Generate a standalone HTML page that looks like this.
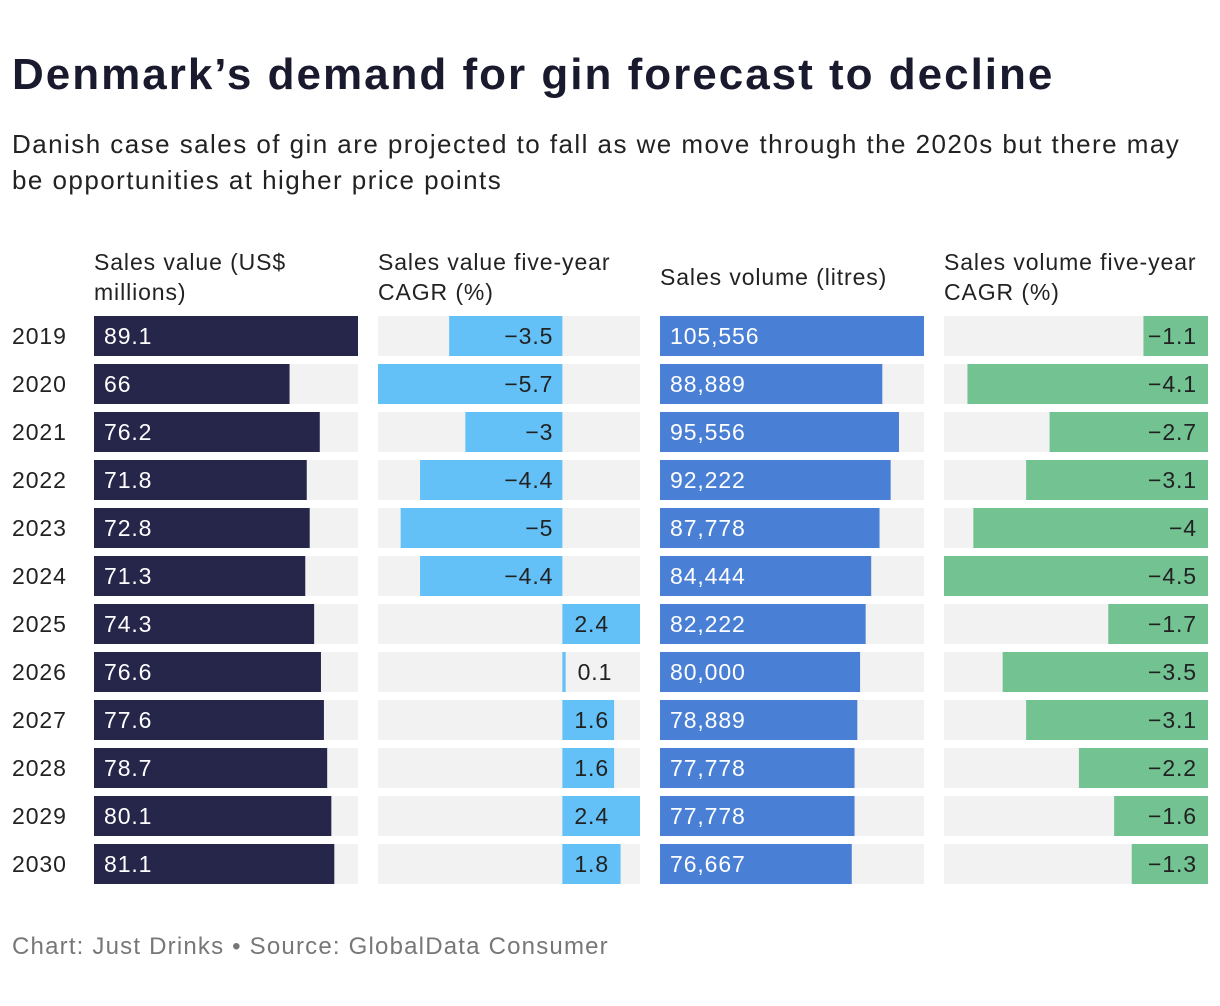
<!DOCTYPE html>
<html><head><meta charset="utf-8">
<style>
body{margin:0;background:#fff;font-family:"Liberation Sans",sans-serif;color:#1c1c2e;}
#wrap{position:relative;width:1220px;height:1006px;overflow:hidden;}
h1{position:absolute;left:12px;top:50px;margin:0;font-size:44px;font-weight:bold;letter-spacing:2.0px;color:#1a1a2e;white-space:nowrap;}
.sub{position:absolute;left:12px;top:126px;font-size:26px;line-height:36px;color:#222;width:1205px;letter-spacing:1.45px;}
.foot{position:absolute;left:12px;top:933px;font-size:24px;color:#777;letter-spacing:1.2px;}
svg text{letter-spacing:0.9px;}
</style></head><body>
<div id="wrap">
<h1>Denmark’s demand for gin forecast to decline</h1>
<div class="sub">Danish case sales of gin are projected to fall as we move through the 2020s but there may be opportunities at higher price points</div>
<svg id="chart" width="1220" height="1006" style="position:absolute;left:0;top:0"></svg>
<div class="foot">Chart: Just Drinks • Source: GlobalData Consumer</div>
</div>
<script>
const years=["2019","2020","2021","2022","2023","2024","2025","2026","2027","2028","2029","2030"];
const salesValue=[89.1,66,76.2,71.8,72.8,71.3,74.3,76.6,77.6,78.7,80.1,81.1];
const valueCagr=[-3.5,-5.7,-3,-4.4,-5,-4.4,2.4,0.1,1.6,1.6,2.4,1.8];
const salesVolume=[105556,88889,95556,92222,87778,84444,82222,80000,78889,77778,77778,76667];
const volumeCagr=[-1.1,-4.1,-2.7,-3.1,-4,-4.5,-1.7,-3.5,-3.1,-2.2,-1.6,-1.3];
const headers=[["Sales value (US$","millions)"],["Sales value five-year","CAGR (%)"],["Sales volume (litres)"],["Sales volume five-year","CAGR (%)"]];

const svg=document.getElementById('chart');
const NS='http://www.w3.org/2000/svg';
function mk(t,a){const e=document.createElementNS(NS,t);for(const k in a)e.setAttribute(k,a[k]);svg.appendChild(e);return e;}
const colX=[94,378,660,944], colWs=[264,262,264,264];
const rowY=i=>316+i*48, rowH=40;
const minV=Math.min(...valueCagr), maxV=Math.max(...valueCagr);
const x1=v=>colX[0]+v/Math.max(...salesValue)*colWs[0];
const x2=v=>colX[1]+(v-minV)/(maxV-minV)*colWs[1];
const x3=v=>colX[2]+v/Math.max(...salesVolume)*colWs[2];
const minG=Math.min(...volumeCagr);
const x4=v=>colX[3]+(v-minG)/(0-minG)*colWs[3];
const fmtNeg=v=>v<0?'\u2212'+String(-v):String(v);

headers.forEach((h,c)=>{
  const y0=h.length===2?270:285;
  h.forEach((l,j)=>{const t=mk('text',{x:colX[c],y:y0+j*30,'font-size':23,fill:'#222'});t.textContent=l;
  
  });
});

years.forEach((yr,i)=>{
  const y=rowY(i);
  const yl=mk('text',{x:12,y:y+28,'font-size':23,fill:'#222'});yl.textContent=yr;
  
  
  colX.forEach((cx,c)=>{const bg=mk('rect',{x:cx,y:y,width:colWs[c],height:rowH,fill:'#f2f2f2'});
    
    });
  let r=mk('rect',{x:colX[0],y:y,width:x1(salesValue[i])-colX[0],height:rowH,fill:'#26264a'});
  
  
  let t=mk('text',{x:colX[0]+10,y:y+28,'font-size':23,fill:'#fff'});t.textContent=salesValue[i];
  
  
  const z=x2(0),v=valueCagr[i],xv=x2(v);
  r=mk('rect',{x:Math.min(z,xv),y:y,width:Math.max(Math.abs(xv-z),3),height:rowH,fill:'#64c1f8'});
  
  
  if(v<0){t=mk('text',{x:z-9,y:y+28,'font-size':23,fill:'#222','text-anchor':'end'});}
  else{t=mk('text',{x:(xv-z>30?z+12:Math.max(xv,z+3)+12),y:y+28,'font-size':23,fill:'#222'});}
  t.textContent=fmtNeg(v);
  
  
  r=mk('rect',{x:colX[2],y:y,width:x3(salesVolume[i])-colX[2],height:rowH,fill:'#4a7fd6'});
  
  
  t=mk('text',{x:colX[2]+10,y:y+28,'font-size':23,fill:'#fff'});t.textContent=salesVolume[i].toLocaleString('en-US');
  
  
  const g=volumeCagr[i],xg=x4(g),z4=x4(0);
  r=mk('rect',{x:xg,y:y,width:z4-xg,height:rowH,fill:'#72c292'});
  
  
  t=mk('text',{x:z4-11,y:y+28,'font-size':23,fill:'#222','text-anchor':'end'});t.textContent=fmtNeg(g);
  
  
});
</script>
</body></html>
